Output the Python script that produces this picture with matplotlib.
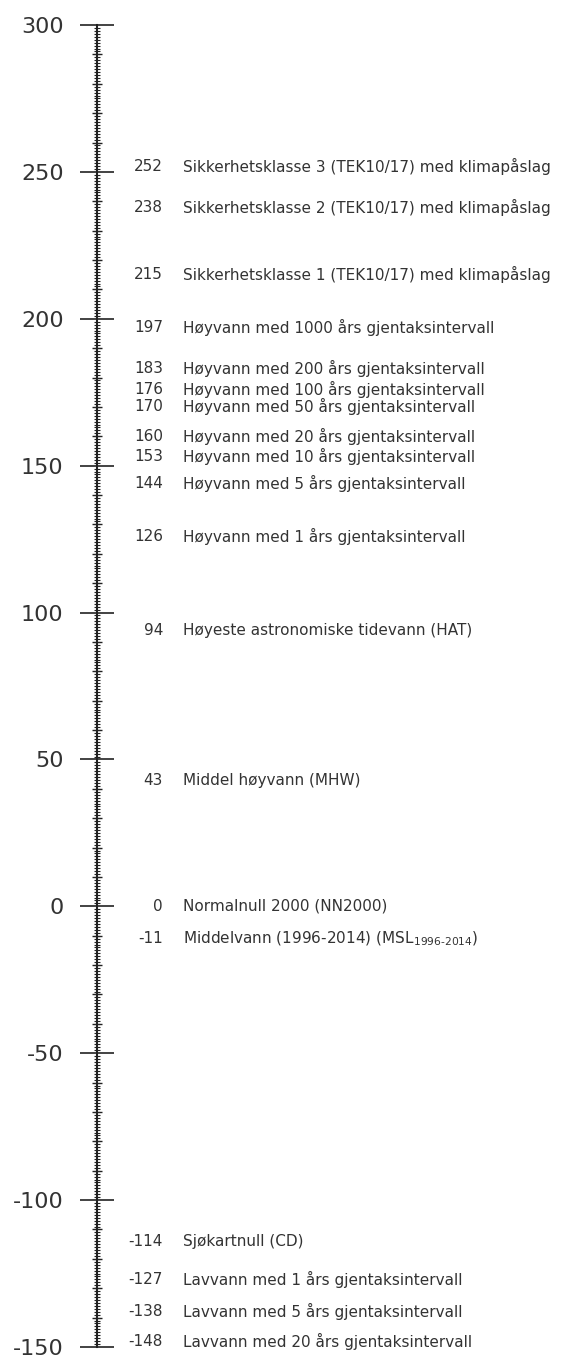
import matplotlib.pyplot as plt
import numpy as np

values = [252, 238, 215, 197, 183, 176, 170, 160, 153, 144, 126, 94, 43, 0, -11,
          -114, -127, -138, -148]
labels = [
    'Sikkerhetsklasse 3 (TEK10/17) med klimapåslag',
    'Sikkerhetsklasse 2 (TEK10/17) med klimapåslag',
    'Sikkerhetsklasse 1 (TEK10/17) med klimapåslag',
    'Høyvann med 1000 års gjentaksintervall',
    'Høyvann med 200 års gjentaksintervall',
    'Høyvann med 100 års gjentaksintervall',
    'Høyvann med 50 års gjentaksintervall',
    'Høyvann med 20 års gjentaksintervall',
    'Høyvann med 10 års gjentaksintervall',
    'Høyvann med 5 års gjentaksintervall',
    'Høyvann med 1 års gjentaksintervall',
    'Høyeste astronomiske tidevann (HAT)',
    'Middel høyvann (MHW)',
    'Normalnull 2000 (NN2000)',
    'Middelvann (1996-2014) (MSL$_{\\mathregular{1996\u20102014}}$)',
    'Sjøkartnull (CD)',
    'Lavvann med 1 års gjentaksintervall',
    'Lavvann med 5 års gjentaksintervall',
    'Lavvann med 20 års gjentaksintervall',
]
major_ticks = np.arange(-150, 301, 50)
mid_ticks = [t for t in range(-150, 301, 10) if t % 50 != 0]

plt.rcParams['axes.unicode_minus'] = False
plt.rcParams['font.family'] = ['DejaVu Sans']

W, H = 569, 1357
fig = plt.figure(figsize=(W / 100, H / 100), dpi=100)
ax = fig.add_axes([97 / W, 10 / H, 470 / W, 1322 / H])
ax.set_ylim(-150, 300)
ax.set_xlim(0, 470)

for s in ['top', 'right', 'bottom']:
    ax.spines[s].set_visible(False)
ax.spines['left'].set_linewidth(1.5)
ax.spines['left'].set_color('#222222')
ax.set_xticks([])

ax.set_yticks(major_ticks)
ax.set_yticklabels([str(t) for t in major_ticks])
ax.set_yticks(np.arange(-150, 301, 1), minor=True)
ax.tick_params(axis='y', which='major', direction='inout', length=24, width=1.2,
               color='#222222', labelsize=16, labelcolor='#333333', pad=12)
ax.tick_params(axis='y', which='minor', direction='inout', length=4.5, width=0.8,
               color='#222222')

sec = ax.secondary_yaxis(0)
sec.set_yticks(mid_ticks)
sec.set_yticklabels([])
sec.tick_params(direction='inout', length=7.5, width=1.0, color='#222222')
sec.spines['left'].set_visible(False)

for v, lab in zip(values, labels):
    ax.text(66, v, str(v), ha='right', va='center', fontsize=11, color='#333333')
    ax.text(86, v, lab, ha='left', va='center', fontsize=11, color='#333333')

fig.savefig('out.png', dpi=100)
